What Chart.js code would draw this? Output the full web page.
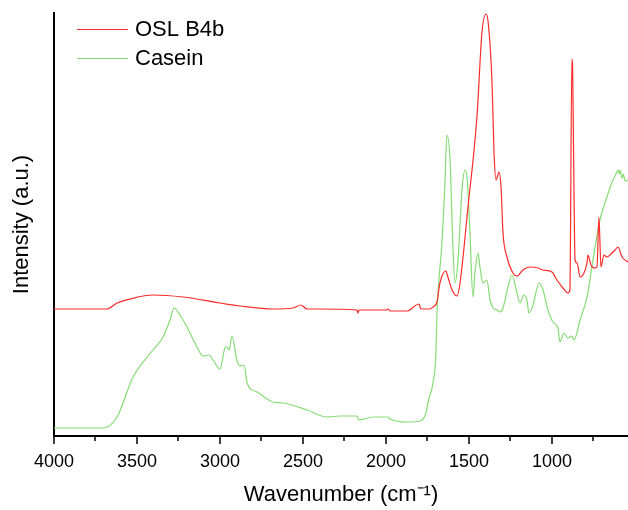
<!DOCTYPE html>
<html>
<head>
<meta charset="utf-8">
<script src="https://cdn.jsdelivr.net/npm/chart.js@4/dist/chart.umd.min.js"></script>
<style>
  body { margin: 0; background: #fff; }
  canvas { display: block; }
</style>
</head>
<body>
<canvas id="chart" width="628" height="510"></canvas>
<script>
// DATA (intensity in arbitrary units)

var xTicks = [4000, 3500, 3000, 2500, 2000, 1500, 1000];
var xMinorTicks = [3750, 3250, 2750, 2250, 1750, 1250, 750];

var seriesNames = ['OSL B4b', 'Casein'];

var waveOsl = [4000, 3681, 3620, 3542, 3404, 3223, 3000, 2880, 2681, 2560, 2512, 2476, 2416,
  2175, 2169, 2163, 2000, 1988, 1976, 1873, 1801, 1789, 1735, 1717, 1693, 1675, 1639, 1627,
  1602, 1572, 1554, 1506, 1452, 1422, 1398, 1386, 1361, 1349, 1337, 1319, 1307, 1295, 1271,
  1235, 1211, 1175, 1133, 1084, 1054, 1000, 970, 934, 904, 892, 880, 876, 870, 861, 849, 831,
  813, 789, 783, 765, 741, 729, 717, 705, 687, 669, 651, 620, 602, 578, 542];
var intOsl = [127, 127, 133, 137, 141, 139, 133, 130, 127, 128, 131, 127, 127,
  126, 123, 126, 126, 127, 125, 125, 132, 127, 127, 129, 134, 153, 165, 159,
  146, 140, 153, 229, 319, 403, 422, 416, 353, 283, 256, 264, 249, 203, 179,
  163, 160, 166, 169, 168, 166, 164, 156, 148, 143, 146, 377, 372, 286, 176, 173, 159,
  161, 173, 181, 171, 168, 169, 219, 169, 181, 179, 181, 186, 189, 179, 174];

var waveCasein = [4000, 3705, 3620, 3524, 3404, 3343, 3301, 3277, 3241, 3199, 3139, 3102, 3066,
  3042, 3000, 2970, 2958, 2945, 2928, 2898, 2880, 2855, 2837, 2777, 2681, 2620, 2476, 2355,
  2277, 2175, 2163, 2078, 1988, 1976, 1873, 1795, 1759, 1747, 1717, 1699, 1693, 1681, 1663,
  1645, 1633, 1614, 1596, 1584, 1566, 1542, 1524, 1512, 1494, 1476, 1464, 1446, 1434, 1416,
  1392, 1373, 1355, 1331, 1313, 1295, 1265, 1241, 1211, 1193, 1169, 1151, 1139, 1114, 1078,
  1054, 1024, 994, 964, 952, 928, 904, 880, 867, 831, 789, 753, 711, 669, 633, 620, 610, 602,
  595, 590, 578, 570, 560, 542];
var intCasein = [8, 8, 19, 59, 86, 99, 116, 128, 121, 109, 89, 80, 81,
  76, 67, 88, 89, 86, 100, 76, 70, 71, 53, 44, 34, 33, 26, 19,
  20, 20, 16, 19, 19, 17, 14, 15, 23, 34, 53, 83, 123, 156, 193,
  253, 301, 276, 186, 153, 176, 246, 266, 259, 203, 139, 163, 183, 169, 153,
  156, 136, 128, 126, 124, 128, 149, 161, 143, 133, 141, 136, 123, 131, 153,
  146, 126, 114, 108, 94, 103, 98, 100, 96, 116, 139, 176, 216, 239, 256, 260, 264, 266,
  262, 266, 258, 262, 255, 256];

var colors = ['#ff2a2a', '#86dc74'];
var fontFamily = '"Liberation Sans", Arial, sans-serif';

function toPoints(xs, ys) {
  return xs.map(function (x, i) { return { x: x, y: ys[i] }; });
}

// tick marks (major + minor) and the legend drawn with the chart's scales
var decorations = {
  id: 'decorations',
  afterDraw: function (chart) {
    var ctx = chart.ctx;
    var xs = chart.scales.x;
    var bottom = chart.chartArea.bottom;

    ctx.save();
    ctx.strokeStyle = '#000';
    ctx.lineWidth = 1.5;
    xTicks.forEach(function (v) {
      var px = Math.round(xs.getPixelForValue(v));
      ctx.beginPath(); ctx.moveTo(px, bottom); ctx.lineTo(px, bottom + 8); ctx.stroke();
    });
    xMinorTicks.forEach(function (v) {
      var px = Math.round(xs.getPixelForValue(v));
      ctx.beginPath(); ctx.moveTo(px, bottom); ctx.lineTo(px, bottom + 5); ctx.stroke();
    });

    // legend
    ctx.font = '22px ' + fontFamily;
    ctx.textBaseline = 'middle';
    ctx.fillStyle = '#000';
    seriesNames.forEach(function (name, i) {
      var y = 29 + i * 29;
      ctx.strokeStyle = colors[i];
      ctx.lineWidth = 1;
      ctx.beginPath(); ctx.moveTo(77, y + 0.5); ctx.lineTo(128, y + 0.5); ctx.stroke();
      ctx.fillText(name, 135, y + 1);
    });
    ctx.restore();
  }
};

new Chart(document.getElementById('chart'), {
  type: 'line',
  data: {
    datasets: [
      { label: seriesNames[0], data: toPoints(waveOsl, intOsl), borderColor: colors[0] },
      { label: seriesNames[1], data: toPoints(waveCasein, intCasein), borderColor: colors[1] }
    ]
  },
  options: {
    responsive: false,
    devicePixelRatio: 1,
    animation: false,
    layout: { padding: { top: 13, right: 0, left: 0, bottom: 0 } },
    elements: {
      point: { radius: 0 },
      line: { borderWidth: 1.2, cubicInterpolationMode: 'monotone' }
    },
    plugins: {
      legend: { display: false },
      tooltip: { enabled: false }
    },
    scales: {
      x: {
        type: 'linear',
        reverse: true,
        min: 542,
        max: 4000,
        afterBuildTicks: function (scale) {
          scale.ticks = xTicks.map(function (v) { return { value: v }; });
        },
        afterFit: function (scale) { scale.height = 74; },
        grid: { display: false },
        border: { display: true, color: '#000', width: 2 },
        ticks: {
          color: '#000',
          padding: 7,
          maxRotation: 0,
          font: { family: fontFamily, size: 18 },
          callback: function (v) { return String(v); }
        },
        title: {
          display: true,
          text: 'Wavenumber (cm\u207B\u00B9)',
          color: '#000',
          font: { family: fontFamily, size: 22 },
          padding: { top: 0, bottom: 2 }
        }
      },
      y: {
        min: 0,
        max: 423,
        afterFit: function (scale) { scale.width = 54; },
        grid: { display: false },
        border: { display: true, color: '#000', width: 2 },
        ticks: { display: false },
        title: {
          display: true,
          text: 'Intensity (a.u.)',
          color: '#000',
          font: { family: fontFamily, size: 22 },
          padding: { top: 9, bottom: 0 }
        }
      }
    }
  },
  plugins: [decorations]
});
</script>
</body>
</html>
